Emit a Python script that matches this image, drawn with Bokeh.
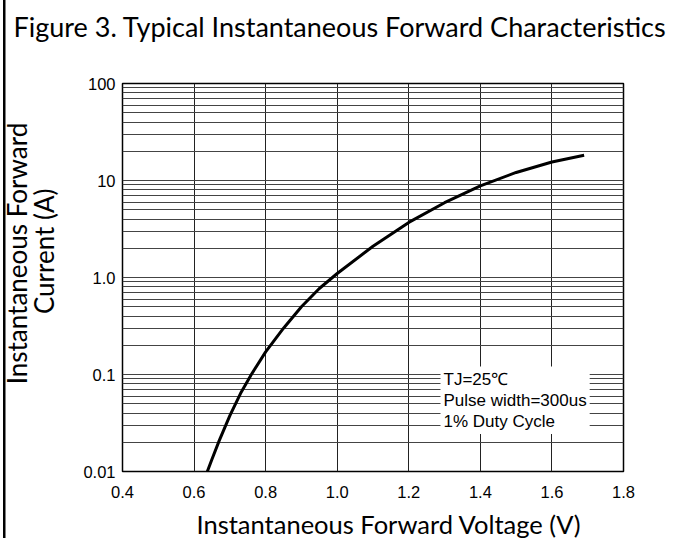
import math
from bokeh.plotting import figure
from bokeh.models import (FixedTicker, PrintfTickFormatter, CustomJSTickFormatter,
                          Label, Title, Range1d)
from bokeh.embed import file_html
from bokeh.resources import INLINE

# ---- data ----
voltage = [0.637, 0.65, 0.67, 0.70, 0.73, 0.76, 0.80, 0.85, 0.90, 0.95, 1.00,
           1.10, 1.20, 1.30, 1.40, 1.50, 1.60, 1.69]
current = [0.010, 0.0134, 0.0207, 0.0377, 0.064, 0.100, 0.171, 0.30, 0.50, 0.77,
           1.10, 2.10, 3.7, 5.9, 8.8, 12.1, 15.5, 18.2]

x_ticks = [0.4, 0.6, 0.8, 1.0, 1.2, 1.4, 1.6, 1.8]
y_ticks = [0.01, 0.1, 1, 10, 100]
y_tick_labels = ["0.01", "0.1", "1.0", "10", "100"]
minor_mult = [1, 2, 3, 4, 5, 6, 7, 8, 9]
decades = [0.01, 0.1, 1, 10]

title_text = "Figure 3. Typical Instantaneous Forward Characteristics"
x_label = "Instantaneous Forward Voltage (V)"
y_label_1 = "Instantaneous Forward"
y_label_2 = "Current (A)"
note_text = "TJ=25\u2103\nPulse width=300us\n1% Duty Cycle"

W, H = 667, 538
p = figure(width=W, height=H, y_axis_type="log",
           x_range=Range1d(0.4, 1.8), y_range=Range1d(0.01, 100),
           output_backend="svg", toolbar_location=None,
           min_border_left=122, min_border_right=44,
           min_border_top=83, min_border_bottom=66,
           styles={"background-color": "white",
                   "box-shadow": "inset 3px 0 0 0 white, inset 5.5px 0 0 0 black"})
p.title = None
p.background_fill_color = "white"
p.border_fill_color = None
p.outline_line_color = "black"
p.outline_line_width = 1.5

# grid
grid_ticks = [m * d for d in decades for m in minor_mult] + [100]
p.ygrid.ticker = FixedTicker(ticks=grid_ticks)
p.ygrid.grid_line_color = "#444444"
p.ygrid.grid_line_width = 1
p.xgrid.ticker = FixedTicker(ticks=x_ticks)
p.xgrid.grid_line_color = "#222222"
p.xgrid.grid_line_width = 1

# axes
for ax in (p.xaxis[0], p.yaxis[0]):
    ax.axis_line_color = None
    ax.major_tick_in = 0
    ax.major_tick_out = 0
    ax.minor_tick_in = 0
    ax.minor_tick_out = 0
    ax.major_label_text_font = "Liberation Sans"
    ax.major_label_text_font_size = "16.5px"
    ax.major_label_text_color = "black"

p.xaxis.ticker = FixedTicker(ticks=x_ticks)
p.xaxis.formatter = PrintfTickFormatter(format="%.1f")
p.xaxis.major_label_standoff = 14
p.yaxis.ticker = FixedTicker(ticks=y_ticks)
p.yaxis.formatter = CustomJSTickFormatter(
    args=dict(vals=y_ticks, labels=y_tick_labels),
    code="""
    let best = 0, d = 1e9;
    for (let i = 0; i < vals.length; i++) {
        const e = Math.abs(Math.log10(tick) - Math.log10(vals[i]));
        if (e < d) { d = e; best = i; }
    }
    return labels[best];
    """)
p.yaxis.major_label_standoff = 7

# curve
p.line(voltage, current, line_color="black", line_width=3)

# note box
p.add_layout(Label(x=440, y=366, x_units="canvas", y_units="canvas",
                   text=note_text, text_font="Liberation Sans",
                   text_font_size="17px", text_line_height=1.12,
                   text_baseline="top", text_align="left", text_color="black",
                   background_fill_color="white", padding=3))

def spacer(gap):
    return Title(text=" ", text_font="Lato", text_font_size="2px",
                 standoff=gap - 2.4)

def side_title(text, size, offset, standoff):
    return Title(text=text, align="left", offset=offset, standoff=standoff,
                 text_font="Lato", text_font_size=size,
                 text_font_style="normal", text_color="black")

# title (above the frame)
p.add_layout(spacer(39.25), "above")
p.add_layout(side_title(title_text, "27px", -109, 0), "above")

# x label (below the axis)
p.add_layout(spacer(3.5), "below")
p.add_layout(side_title(x_label, "25.5px", 74, 0), "below")

# y label, two lines (left of the axis)
p.add_layout(spacer(19.4), "left")
p.add_layout(side_title(y_label_2, "26px", 157.4, 0), "left")
p.add_layout(side_title(y_label_1, "26px", 87.2, -14), "left")

open("out.html", "w").write(file_html(p, INLINE))
